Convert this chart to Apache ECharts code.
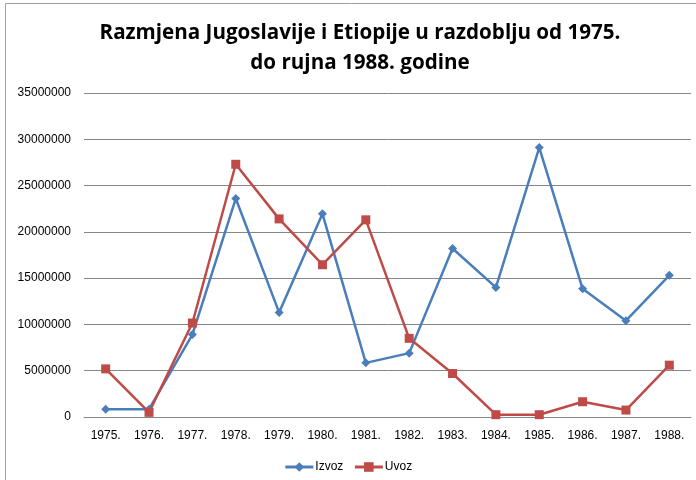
<!DOCTYPE html>
<html>
<head>
<meta charset="utf-8">
<script src="https://cdn.jsdelivr.net/npm/echarts@6/dist/echarts.min.js"></script>
<style>html,body{margin:0;padding:0;background:#fff}#c{width:696px;height:480px}</style>
</head>
<body>
<div id="c"></div>
<script>
const categories = ['1975.','1976.','1977.','1978.','1979.','1980.','1981.','1982.','1983.','1984.','1985.','1986.','1987.','1988.'];
const izvoz = [850000, 850000, 8900000, 23600000, 11300000, 21950000, 5850000, 6900000, 18200000, 14000000, 29100000, 13850000, 10400000, 15300000];
const uvoz = [5200000, 500000, 10150000, 27300000, 21400000, 16450000, 21300000, 8500000, 4700000, 250000, 250000, 1650000, 750000, 5600000];
const yTicks = { min: 0, max: 35000000, interval: 5000000 };

const chart = echarts.init(document.getElementById('c'), null, { renderer: 'canvas' });
const font = 'Liberation Sans, Arial, sans-serif';
chart.setOption({
  backgroundColor: '#fff',
  animation: false,
  title: {
    text: 'Razmjena Jugoslavije i Etiopije u razdoblju od 1975.\ndo rujna 1988. godine',
    left: 355, top: 13, textAlign: 'center',
    textStyle: { fontFamily: 'Open Sans', fontWeight: 'bold', fontSize: 20.6, lineHeight: 30, color: '#000' }
  },
  graphic: [{
    type: 'rect', shape: { x: 5.5, y: 3.5, width: 720, height: 520 },
    style: { fill: 'none', stroke: '#a0a0a0', lineWidth: 1 }, silent: true
  }],
  legend: {
    top: 456, left: 'center', itemGap: 10, itemWidth: 28, itemHeight: 12,
    lineStyle: { width: 3 },
    textStyle: { fontFamily: font, fontSize: 12, color: '#000', padding: [0, 0, 0, -3] },
    data: ['Izvoz', 'Uvoz']
  },
  grid: { left: 84, right: 5, top: 93, bottom: 63 },
  xAxis: {
    type: 'category', data: categories, boundaryGap: true,
    axisLine: { lineStyle: { color: '#868686' } },
    axisTick: { show: false },
    axisLabel: { fontFamily: font, fontSize: 12, color: '#000', margin: 13 }
  },
  yAxis: {
    type: 'value', min: yTicks.min, max: yTicks.max, interval: yTicks.interval,
    axisLine: { show: false }, axisTick: { show: false },
    axisLabel: { fontFamily: font, fontSize: 12, color: '#000', margin: 13, formatter: v => String(v) },
    splitLine: { lineStyle: { color: '#868686', width: 1 } }
  },
  series: [
    { name: 'Izvoz', type: 'line', data: izvoz, symbol: 'diamond', symbolSize: 9,
      itemStyle: { color: '#4a7ebb' }, lineStyle: { color: '#4a7ebb', width: 2.5 } },
    { name: 'Uvoz', type: 'line', data: uvoz, symbol: 'rect', symbolSize: 9,
      itemStyle: { color: '#be4b48' }, lineStyle: { color: '#be4b48', width: 2.5 } }
  ]
});
</script>
</body>
</html>
